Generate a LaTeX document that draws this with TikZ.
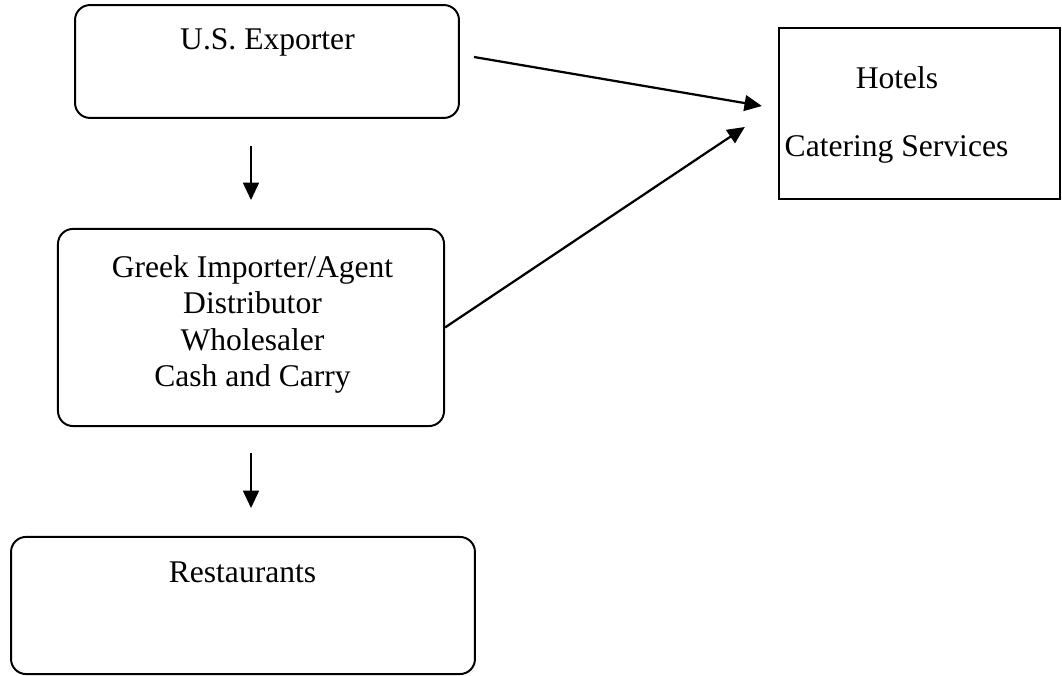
\documentclass[tikz,border=0pt]{standalone}
\usepackage{fontspec}
\setmainfont{Liberation Serif}
\usetikzlibrary{arrows.meta,positioning}

\begin{document}
\begin{tikzpicture}[x=0.38pt,y=-0.38pt,
	rbox/.style={draw,line width=0.75pt,rounded corners=5.7pt,inner sep=0pt},
	sbox/.style={draw,line width=0.85pt,inner sep=0pt},
	lbl/.style={font=\fontsize{12pt}{13.7pt}\selectfont,inner sep=0pt,anchor=base},
	flow/.style={-{Triangle[length=6.6pt,width=6pt]},line width=0.85pt}]
	\useasboundingbox (0,0) rectangle (1062,676);
	
	% boxes
	\node[rbox,minimum width=145.9pt,minimum height=42.9pt] (us) at (267,61.5) {};
	\node[rbox,minimum width=146.7pt,minimum height=74.9pt] (imp) at (251,327.5) {};
	\node[rbox,minimum width=176.3pt,minimum height=52.1pt] (rest) at (243,605.5) {};
	\node[sbox,minimum width=106.8pt,minimum height=65pt] (hot) at (919.5,113.5) {};
	
	% texts
	\node[lbl] (uslbl) at (267.5,50) {U.S. Exporter};
	\node[lbl,anchor=north,align=center] (implbl) at (252.5,255.5)
		{Greek Importer/Agent\\Distributor\\Wholesaler\\Cash and Carry};
	\node[lbl] (restlbl) at (242.5,583) {Restaurants};
	\node[lbl] (hotlbl) at (897,89) {Hotels};
	\node[lbl] (catlbl) at (896.5,157) {Catering Services};
	
	% arrows
	\draw[flow,shorten <=10.3pt,shorten >=10.6pt] (imp.north |- us.south) -- (imp.north);
	\draw[flow,shorten <=9.9pt,shorten >=10.6pt] (imp.south) -- (rest.north -| imp.south);
	\draw[flow] ([shift={(14,-4.5)}]us.east) -- ([shift={(-16,-7.5)}]hot.west);
	\draw[flow] (imp.east) -- ([shift={(-33,13.5)}]hot.west);
	%\draw[flow] (imp.east) -- (hot.south west);
\end{tikzpicture}
\end{document}
